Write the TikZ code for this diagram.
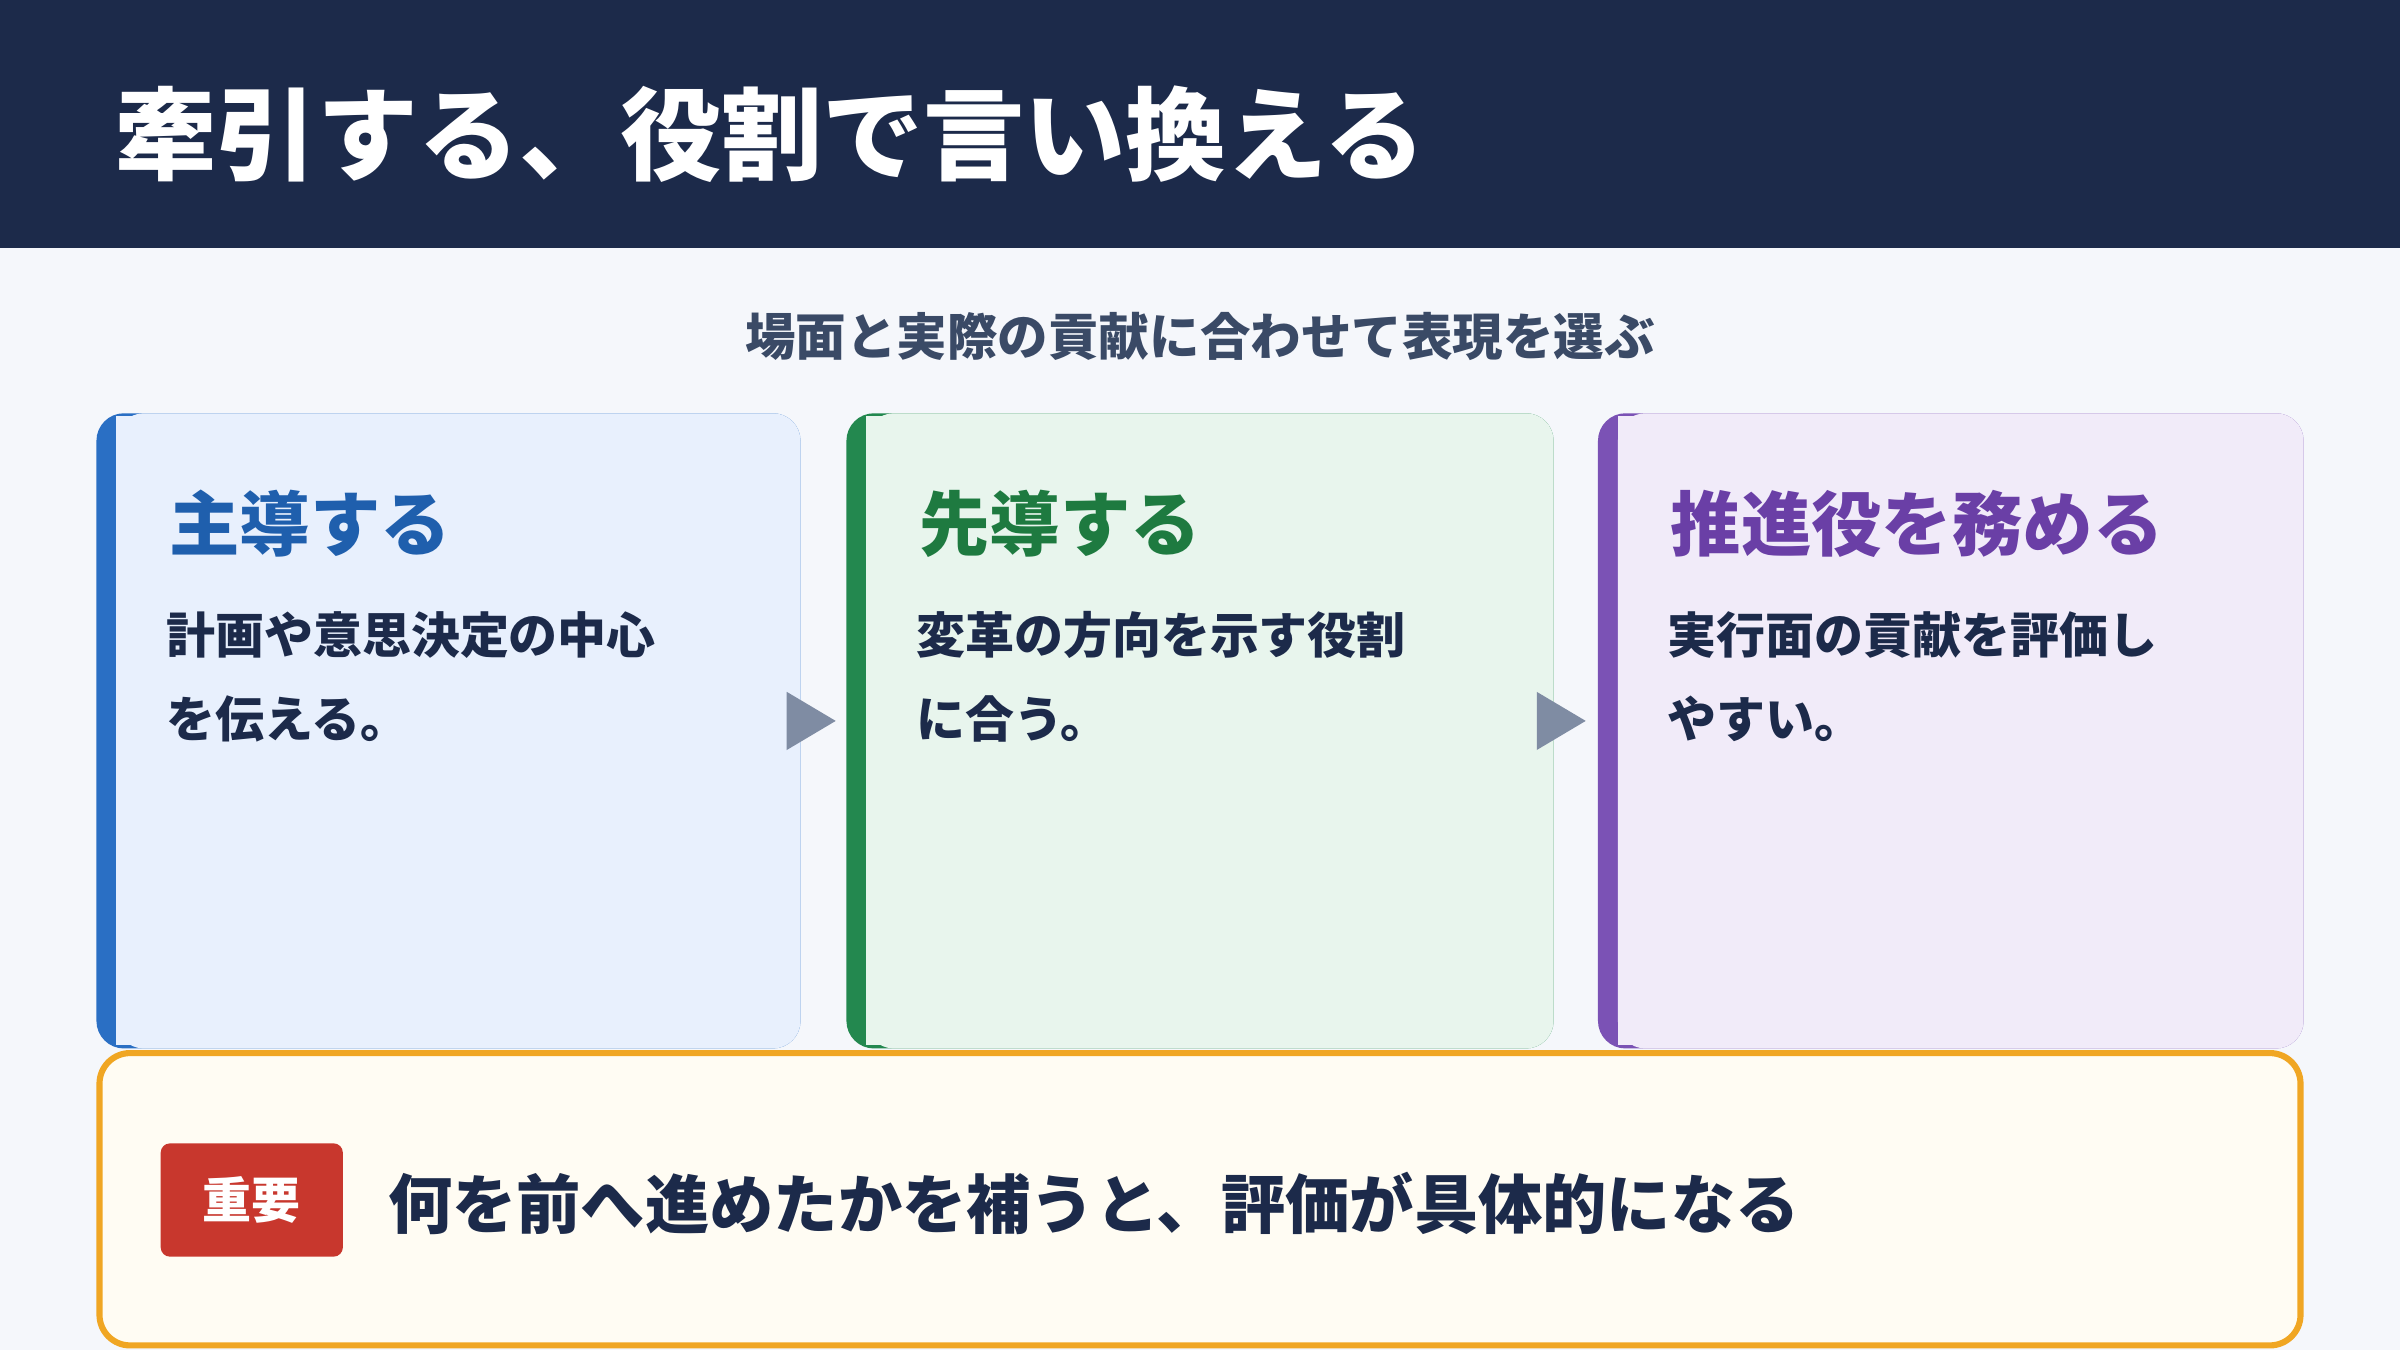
\documentclass[tikz,border=0pt]{standalone}
\usepackage{fontspec}
\setmainfont{Noto Sans CJK JP}
\definecolor{navy}{HTML}{1C2A4A}
\definecolor{bg}{HTML}{F5F7FB}
\definecolor{sub}{HTML}{3A4A66}
\definecolor{fa}{HTML}{E8F0FD}\definecolor{fb}{HTML}{E8F5ED}\definecolor{fc}{HTML}{F1EBF9}
\definecolor{aa}{HTML}{2A6FC4}\definecolor{ab}{HTML}{23884F}\definecolor{ac}{HTML}{7B52B5}
\definecolor{ta}{HTML}{1F5FAD}\definecolor{tb}{HTML}{1E7A40}\definecolor{tc}{HTML}{6A3FA6}
\definecolor{arr}{HTML}{7F8CA3}
\definecolor{orb}{HTML}{F0A623}\definecolor{orf}{HTML}{FFFCF3}\definecolor{red}{HTML}{C8372D}
\begin{document}
\begin{tikzpicture}[x=1pt,y=-1pt,
 ctitle/.style={anchor=west,font=\fontsize{46}{50}\selectfont\bfseries},
 cbody/.style={anchor=north west,align=left,text=navy,font=\fontsize{32}{55}\selectfont\bfseries},
 tri/.style={fill=arr}]
\useasboundingbox (0,0) rectangle (1568,882);
\fill[bg] (0,0) rectangle (1568,882);
\fill[navy] (0,0) rectangle (1568,162);
\node[anchor=west,text=white,font=\fontsize{66}{70}\selectfont\bfseries] (title) at (72,88) {牽引する、役割で言い換える};
\node[text=sub,font=\fontsize{33}{36}\selectfont\bfseries] (subtitle) at (784,220) {場面と実際の貢献に合わせて表現を選ぶ};
% cards
\foreach \xa/\xb/\f/\a/\n in {63/523/aa/fa/1,553/1015/ab/fb/2,1044/1505/ac/fc/3}{
 \fill[\f,rounded corners=18] (\xa,270) rectangle (\xb,685);
 \fill[\a,rounded corners=18] (\xa+13,270) rectangle (\xb,685);
 \fill[\a] (\xa+13,272) rectangle (\xa+30,683);
}
\node[ctitle,text=ta] (t1) at (107,342) {主導する};
\node[ctitle,text=tb] (t2) at (597,342) {先導する};
\node[ctitle,text=tc] (t3) at (1088,342) {推進役を務める};
\node[cbody] (b1) at (105,396) {計画や意思決定の中心\\を伝える。};
\node[cbody] (b2) at (595,396) {変革の方向を示す役割\\に合う。};
\node[cbody] (b3) at (1086,396) {実行面の貢献を評価し\\やすい。};
\fill[tri] (514,452) -- (546,471) -- (514,490) -- cycle;
\fill[tri] (1004,452) -- (1036,471) -- (1004,490) -- cycle;
% bottom
\draw[orb,line width=4,fill=orf,rounded corners=20] (65,688) rectangle (1503,879);
\fill[red,rounded corners=6] (105,747) rectangle (224,821);
\node[text=white,font=\fontsize{32}{36}\selectfont\bfseries] (badge) at (164.5,784) {重要};
\node[anchor=west,text=navy,font=\fontsize{42}{46}\selectfont\bfseries] (msg) at (250,786) {何を前へ進めたかを補うと、評価が具体的になる};
\end{tikzpicture}
\end{document}
